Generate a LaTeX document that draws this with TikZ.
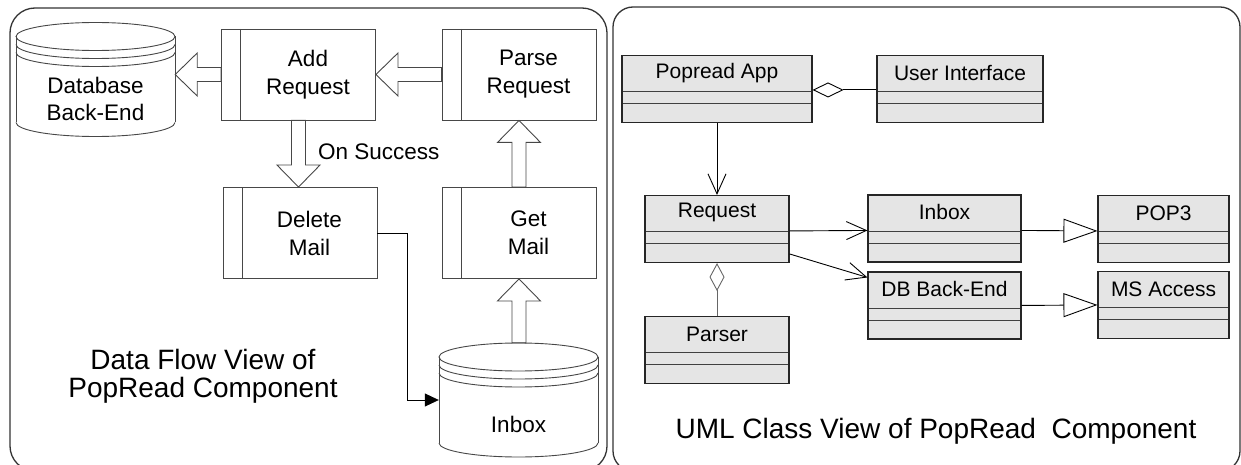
\documentclass[tikz,border=0pt]{standalone}
\usepackage{fontspec}
\setmainfont{Liberation Sans}
\usetikzlibrary{calc,arrows.meta}

% cylinder outline (data store) drawn around a named store node
\newcommand\drum[1]{%
  \begin{scope}[shift={(#1.center)}]
    \draw[dfline] (0,-43) ellipse [x radius=79.5pt, y radius=14pt];
    \draw[dfline] (-79.5,-35) arc [start angle=180, end angle=360, x radius=79.5pt, y radius=14pt];
    \draw[dfline] (-79.5,-27) arc [start angle=180, end angle=360, x radius=79.5pt, y radius=14pt];
    \draw[dfline] (-79.5,-43) -- (-79.5,43);
    \draw[dfline] (79.5,-43) -- (79.5,43);
    \draw[dfline] (-79.5,43) arc [start angle=180, end angle=360, x radius=79.5pt, y radius=14pt];
  \end{scope}}

\begin{document}
\begin{tikzpicture}[x=1pt,y=-1pt,
  panel/.style={draw=black!80, line width=1.3pt, rounded corners=#1},
  dfline/.style={draw=black!72, line width=0.9pt},
  proctext/.style={xshift=9.5pt, align=center, inner sep=0pt,
    font=\fontsize{22.5}{28}\selectfont},
  proc/.style={dfline, minimum width=154pt, minimum height=91pt, inner sep=0pt,
    path picture={\draw[dfline]
      ([xshift=19pt]path picture bounding box.north west) --
      ([xshift=19pt]path picture bounding box.south west);},
    label={[proctext]center:#1}},
  store/.style={minimum width=159pt, minimum height=114pt, inner sep=0pt},
  storetext/.style={align=center, inner sep=0pt, font=\fontsize{22.5}{27}\selectfont},
  fat/.style={to path={
    let \p1=(\tikztostart), \p2=(\tikztotarget),
        \n1={atan2(\y2-\y1,\x2-\x1)}, \n2={veclen(\x2-\x1,\y2-\y1)} in
    ([shift={(\p1)},rotate=\n1]0,7) --
    ([shift={(\p1)},rotate=\n1]\n2-22,7) --
    ([shift={(\p1)},rotate=\n1]\n2-22,21.5) --
    ([shift={(\p1)},rotate=\n1]\n2,0) --
    ([shift={(\p1)},rotate=\n1]\n2-22,-21.5) --
    ([shift={(\p1)},rotate=\n1]\n2-22,-7) --
    ([shift={(\p1)},rotate=\n1]0,-7) -- cycle}},
  lbl/.style={inner sep=0pt, font=\fontsize{22.5}{27}\selectfont},
  captext/.style={align=center, inner sep=0pt, font=\fontsize{28}{28}\selectfont},
  umltext/.style={anchor=center, yshift=-18pt, inner sep=0pt,
    font=\fontsize{21}{24}\selectfont},
  uml/.style={draw=black!85, line width=1.1pt, fill=black!10,
    minimum height=67pt, inner sep=0pt,
    path picture={
      \draw[black!75, line width=0.9pt]
        ([yshift=-36pt]path picture bounding box.north west) --
        ([yshift=-36pt]path picture bounding box.north east)
        ([yshift=-48pt]path picture bounding box.north west) --
        ([yshift=-48pt]path picture bounding box.north east);},
    label={[umltext]north:#1}},
  umlL/.style={uml={#1}, umltext/.append style={xshift=-5pt}},
  conn/.style={draw=black, line width=0.9pt},
  barb/.style={conn, -{Straight Barb[length=20pt, width=18pt, line width=0.9pt]}},
  agg/.style={conn, -{Diamond[open, length=#1, width=15pt]}},
  gen/.style={conn, -{Triangle[open, length=34pt, width=24pt]}}
]
\useasboundingbox (0,0) rectangle (1241,465);

% two framed panels
\draw[panel=25pt] (10,8) rectangle (607,471);
\draw[panel=20pt] (613,7) rectangle (1240,471);

% ---------- data flow view ----------
\node[store, label={[storetext, yshift=-19pt]center:Database\\Back-End}] (db) at (95.5,79.5) {};
\drum{db}
\node[store, label={[storetext, yshift=-24pt]center:Inbox}] (inbox) at (518.5,400) {};
\drum{inbox}

\node[proc={Add\\Request}]    (add)   at (298.5,74.5) {};
\node[proc={Parse\\Request}]  (parse) at (519,74.5) {};
\node[proc={Delete\\Mail}]    (del)   at (300,233) {};
\node[proc={Get\\Mail}]       (get)   at (519,233) {};

\draw[dfline] (add.west) to[fat] (add.west -| db.east);
\draw[dfline] (parse.west) to[fat] (add.east);
\draw[dfline] (add.south) to[fat] (add.south |- del.north);
\draw[dfline] (get.north) to[fat] (parse.south);
\draw[dfline] (get.south |- inbox.north) to[fat] (get.south);

\node[lbl, anchor=west] (succ) at (318,152) {On Success};

\draw[conn, line width=0.8pt, -{Triangle[length=14pt, width=13pt]}]
  (del.east) -- ++(30,0) |- (inbox.west);

\node[captext] (dfcap) at (203,376) {Data Flow View of\\PopRead Component};

% ---------- UML class view ----------
\node[umlL={Popread App}, minimum width=190pt]    (app)    at (717,89) {};
\node[uml={User Interface}, minimum width=166pt]  (ui)     at (960,89) {};
\node[uml={Request}, minimum width=144pt]         (req)    at (717,229) {};
\node[uml={Parser}, minimum width=144pt]          (parser) at (717,350) {};
\node[uml={Inbox}, minimum width=153pt]           (ibx)    at (944.5,228.5) {};
\node[umlL={DB Back-End}, minimum width=153pt]    (dbc)    at (944.5,305.5) {};
\node[uml={POP3}, minimum width=131pt]            (pop)    at (1163.5,229) {};
\node[umlL={MS Access}, minimum width=131pt]      (msa)    at (1163.5,305) {};

\draw[agg=31pt] ([yshift=-35pt]ui.north west) -- ([yshift=-35pt]app.north east);
\draw[barb] (app.south) -- (req.north);
\draw[barb] ([yshift=-36pt]req.north east) -- ([yshift=-36pt]ibx.north west);
\draw[barb] ([yshift=-59pt]req.north east) -- ([yshift=-6pt]dbc.north west);
\draw[agg=28pt, draw=black!60] (parser.north) -- (req.south);
\draw[gen] ([yshift=-36pt]ibx.north east) -- ([yshift=-36pt]pop.north west);
\draw[gen] ([yshift=-34pt]dbc.north east) -- ([yshift=-34pt]msa.north west);

\node[captext] (umlcap) at (936,431) {UML Class View of PopRead\ \ Component};
\end{tikzpicture}
\end{document}
